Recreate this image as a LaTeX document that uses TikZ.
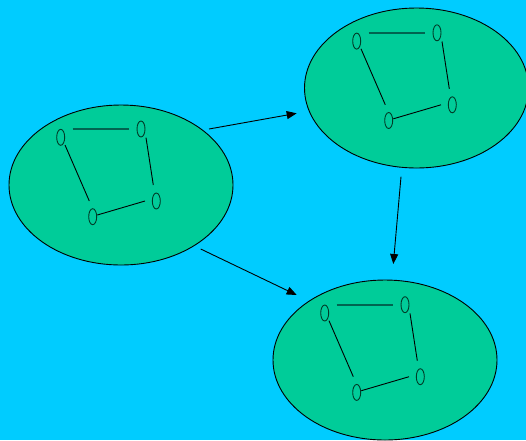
\documentclass[tikz,border=0pt]{standalone}
\usetikzlibrary{shapes.geometric,arrows.meta}
\definecolor{bgcyan}{RGB}{0,204,255}
\definecolor{blobgreen}{RGB}{0,204,153}
\definecolor{nodeline}{RGB}{0,60,40}
\definecolor{thickteal}{RGB}{0,100,80}
\tikzset{
  blob/.style={draw=black, line width=0.9pt, fill=blobgreen, ellipse, inner sep=0pt, minimum width=224pt, minimum height=160pt},
  vtx/.style={draw=nodeline, line width=0.9pt, ellipse, inner sep=0pt, minimum width=8pt, minimum height=16pt},
  thinedge/.style={draw=black, line width=0.9pt},
  thickedge/.style={draw=thickteal, line width=2pt},
  flow/.style={draw=black, line width=0.9pt, -{Triangle[length=10pt,width=8pt]}}
}
\newcommand\subgraphdraw[2]{%
  \begin{scope}[shift={#2}]
    \node[vtx] (#1a) at (60.7,137.3) {};
    \node[vtx] (#1b) at (141,129) {};
    \node[vtx] (#1c) at (156.3,201) {};
    \node[vtx] (#1d) at (92.7,216.7) {};
  \end{scope}
  \draw[thickedge] ([shift={(12,-8.3)}]#1a.center) -- ([shift={(-11.7,0)}]#1b.center);
  \draw[thinedge] ([shift={(4.3,7.7)}]#1a.center) -- ([shift={(-3.4,-15.7)}]#1d.center);
  \draw[thinedge] ([shift={(5,8.7)}]#1b.center) -- ([shift={(-3,-16)}]#1c.center);
  \draw[thinedge] ([shift={(4.6,-1.7)}]#1d.center) -- ([shift={(-11.3,0)}]#1c.center);
}
\begin{document}
\begin{tikzpicture}[x=1pt,y=-1pt]
  \path[use as bounding box, fill=bgcyan] (0,0) rectangle (526,440);
  \node[blob] (e1) at (121,185) {};
  \node[blob] (e2) at (416.5,88) {};
  \node[blob] (e3) at (385,360) {};
  \subgraphdraw{g1}{(0,0)}
  \subgraphdraw{g2}{(296,-96.2)}
  \subgraphdraw{g3}{(264,175.7)}
  \draw[flow] ([shift={(88,-56)}]e1.center) -- ([shift={(-119.8,25.3)}]e2.center);
  \draw[flow] ([shift={(79.7,64)}]e1.center) -- ([shift={(-88.3,-65)}]e3.center);
  \draw[flow] ([shift={(-15.5,88.7)}]e2.center) -- ([shift={(8.3,-96)}]e3.center);
\end{tikzpicture}
\end{document}
